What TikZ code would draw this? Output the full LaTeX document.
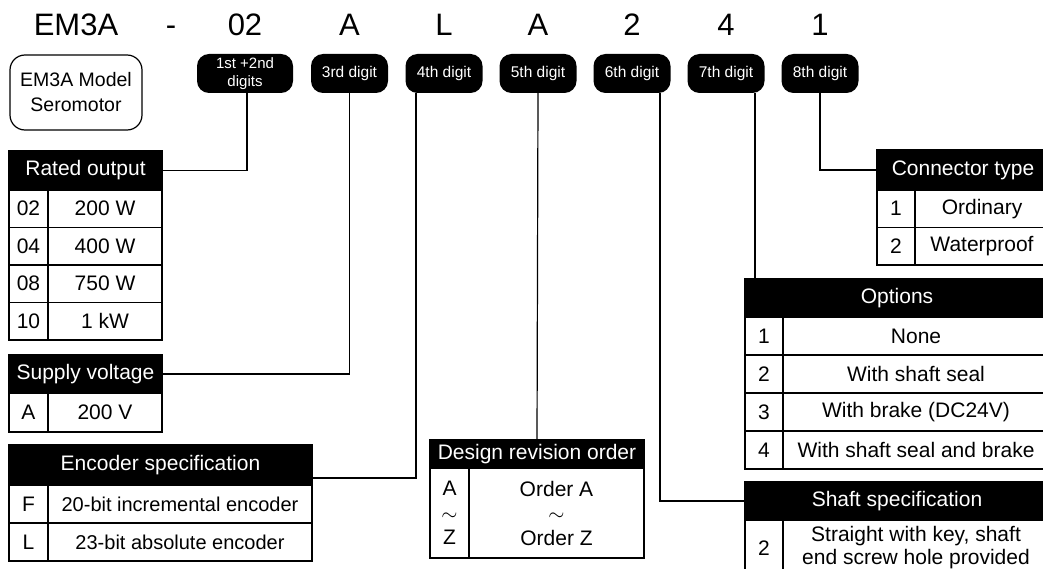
\documentclass[tikz,border=0pt]{standalone}
\usepackage{fontspec}
\setmainfont{Liberation Sans}
\usetikzlibrary{positioning}

\tikzset{
  hdr/.style={fill=black, text=white, draw=black, line width=1.2pt, outer sep=0pt, inner sep=0pt, font=\fontsize{21}{24}\selectfont},
  cell/.style={draw=black, line width=1.2pt, outer sep=0pt, inner sep=0pt, minimum height=38pt, align=center, font=\fontsize{21}{23}\selectfont},
  badge/.style={fill=black, text=white, rounded corners=12pt, minimum width=77pt, minimum height=39pt, inner sep=0pt, font=\fontsize{15.5}{16}\selectfont},
  digit/.style={anchor=base, inner sep=0pt, font=\fontsize{31}{34}\selectfont},
  wire/.style={draw=black, line width=1.2pt}
}

\begin{document}
\begin{tikzpicture}[x=1pt, y=-1pt]
\clip (0,0) rectangle (1043,569);

% model code
\node[digit] (c0) at (76,36) {EM3A};
\node[digit] (c1) at (171,36) {-};
\node[digit] (c2) at (245,36) {02};
\node[digit] (c3) at (349.5,36) {A};
\node[digit] (c4) at (444,36) {L};
\node[digit] (c5) at (538,36) {A};
\node[digit] (c6) at (632,36) {2};
\node[digit] (c7) at (726,36) {4};
\node[digit] (c8) at (820,36) {1};

\node[draw, line width=1.2pt, rounded corners=15pt, minimum width=132pt, minimum height=75pt, align=center, font=\fontsize{19.5}{25}\selectfont] (model) at (76,92.5) {EM3A Model\\Seromotor};

% digit badges
\node[badge, minimum width=96pt, align=center, font=\fontsize{15}{18}\selectfont] (d12) at (245,73.5) {1st +2nd\\digits};
\node[badge] (d3) at (349.5,73.5) {3rd digit};
\node[badge] (d4) at (444,73.5) {4th digit};
\node[badge] (d5) at (538,73.5) {5th digit};
\node[badge] (d6) at (632,73.5) {6th digit};
\node[badge] (d7) at (726,73.5) {7th digit};
\node[badge] (d8) at (820,73.5) {8th digit};

% rated output
\node[hdr, minimum width=153pt, minimum height=39pt] (rated) at (85.5,170.5) {Rated output};
\node[cell, minimum width=39pt, minimum height=37.5pt, anchor=north west] (r1k) at (rated.south west) {02};
\node[cell, minimum width=114pt, minimum height=37.5pt, right=0pt of r1k] (r1v) {200 W};
\node[cell, minimum width=39pt, minimum height=37.5pt, below=0pt of r1k] (r2k) {04};
\node[cell, minimum width=114pt, minimum height=37.5pt, right=0pt of r2k] (r2v) {400 W};
\node[cell, minimum width=39pt, minimum height=37.5pt, below=0pt of r2k] (r3k) {08};
\node[cell, minimum width=114pt, minimum height=37.5pt, right=0pt of r3k] (r3v) {750 W};
\node[cell, minimum width=39pt, minimum height=37.5pt, below=0pt of r3k] (r4k) {10};
\node[cell, minimum width=114pt, minimum height=37.5pt, right=0pt of r4k] (r4v) {1 kW};

% supply voltage
\node[hdr, minimum width=153pt, minimum height=38pt] (supply) at (85.5,374) {Supply voltage};
\node[cell, minimum width=39pt, minimum height=39pt, anchor=north west] (s1k) at (supply.south west) {A};
\node[cell, minimum width=114pt, minimum height=39pt, right=0pt of s1k] (s1v) {200 V};

% encoder specification
\node[hdr, minimum width=303pt, minimum height=40pt] (enc) at (160.5,465) {Encoder specification};
\node[cell, minimum width=39pt, anchor=north west] (e1k) at (enc.south west) {F};
\node[cell, minimum width=264pt, right=0pt of e1k, font=\fontsize{20}{23}\selectfont] (e1v) {20-bit incremental encoder};
\node[cell, minimum width=39pt, below=0pt of e1k] (e2k) {L};
\node[cell, minimum width=264pt, right=0pt of e2k, font=\fontsize{20}{23}\selectfont] (e2v) {23-bit absolute encoder};

% design revision order
\node[hdr, minimum width=214pt, minimum height=28pt] (rev) at (537,454) {Design revision order};
\node[cell, minimum width=39pt, minimum height=90pt, anchor=north west, font=\fontsize{21}{24.5}\selectfont] (v1k) at (rev.south west) {A\\$\sim$\\Z};
\node[cell, minimum width=175pt, minimum height=90pt, right=0pt of v1k, font=\fontsize{21}{24.5}\selectfont] (v1v) {Order A\\$\sim$\\Order Z};

% connector type
\node[hdr, minimum width=172pt, minimum height=40pt] (conn) at (963,170) {Connector type};
\node[cell, minimum width=38pt, minimum height=37.5pt, anchor=north west] (k1k) at (conn.south west) {1};
\node[cell, minimum width=134pt, minimum height=37.5pt, right=0pt of k1k] (k1v) {Ordinary};
\node[cell, minimum width=38pt, minimum height=37.5pt, below=0pt of k1k] (k2k) {2};
\node[cell, minimum width=134pt, minimum height=37.5pt, right=0pt of k2k] (k2v) {Waterproof};

% options
\node[hdr, minimum width=304pt, minimum height=38pt] (opt) at (897,298) {Options};
\node[cell, minimum width=38pt, anchor=north west] (o1k) at (opt.south west) {1};
\node[cell, minimum width=266pt, right=0pt of o1k] (o1v) {None};
\node[cell, minimum width=38pt, below=0pt of o1k] (o2k) {2};
\node[cell, minimum width=266pt, right=0pt of o2k] (o2v) {With shaft seal};
\node[cell, minimum width=38pt, below=0pt of o2k] (o3k) {3};
\node[cell, minimum width=266pt, right=0pt of o3k] (o3v) {With brake (DC24V)};
\node[cell, minimum width=38pt, below=0pt of o3k] (o4k) {4};
\node[cell, minimum width=266pt, right=0pt of o4k] (o4v) {With shaft seal and brake};

% shaft specification
\node[hdr, minimum width=304pt, minimum height=38pt] (shaft) at (897,501) {Shaft specification};
\node[cell, minimum width=38pt, minimum height=56pt, anchor=north west] (h1k) at (shaft.south west) {2};
\node[cell, minimum width=266pt, minimum height=56pt, right=0pt of h1k] (h1v) {Straight with key, shaft\\end screw hole provided};

% connectors
\draw[wire] ([xshift=2pt]d12.south) |- (rated.east);
\draw[wire] (d3.south) |- (supply.east);
\draw[wire] ([xshift=-28pt]d4.south) |- ([yshift=-13pt]enc.east);
\draw[wire] (d5.south) -- (rev.north);
\draw[wire] ([xshift=28pt]d6.south) |- (shaft.west);
\draw[wire] ([xshift=29pt]d7.south) -- ([xshift=29pt]d7.south |- opt.north);
\draw[wire] (d8.south) |- (conn.west);
\end{tikzpicture}
\end{document}
